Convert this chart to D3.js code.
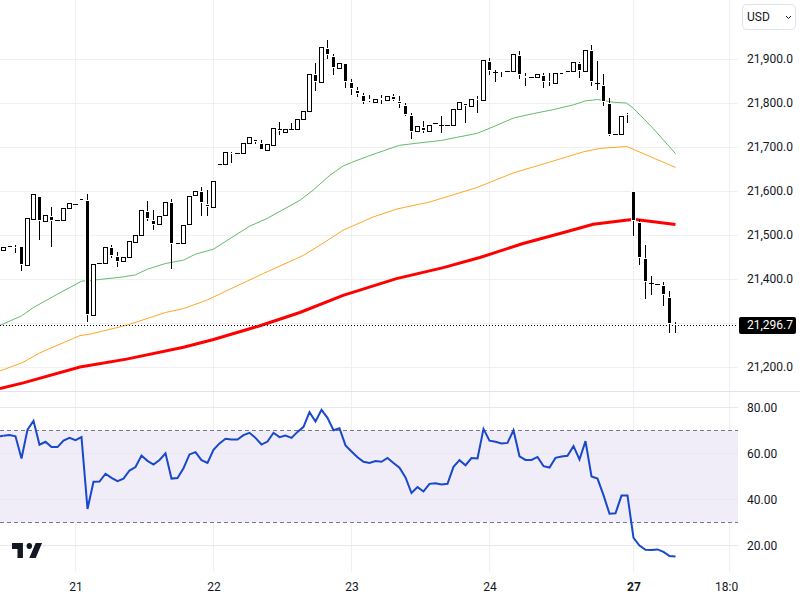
<!DOCTYPE html>
<html>
<head>
	<title></title>
	<meta charset="utf-8">
	<script src="https://d3js.org/d3.v7.min.js"></script>
	<style>
		body { margin: 0; background: #fff; }
		text { font-family: Roboto, sans-serif; font-size: 12px; fill: #131722; }
	</style>
</head>
<body>

	<script type="text/javascript">

		var opens = [21466,21475,21473,21474,21431,21536,21589,21532,21544,21534,
			21533,21561,21570,21585,21580,21318,21436,21436,21473,21453,
			21440,21449,21483,21500,21555,21535,21525,21545,21575,21482,
			21482,21525,21591,21601,21571,21564,21661,21661,21687,21686,
			21686,21709,21718,21709,21693,21704,21741,21734,21742,21741,
			21764,21782,21867,21848,21925,21907,21880,21891,21848,21830,
			21818,21808,21802,21811,21807,21816,21805,21795,21773,21736,
			21745,21736,21754,21751,21751,21751,21786,21800,21793,21809,
			21806,21896,21870,21874,21873,21873,21910,21861,21859,21859,
			21864,21851,21845,21870,21872,21873,21892,21873,21920,21846,
			21841,21800,21730,21730,21776,21599,21530,21448,21390,21388,
			21387,21360,21298]

		var closes = [21472,21472,21472,21433,21539,21593,21533,21545,21533,21534,
			21561,21573,21570,21580,21321,21434,21436,21473,21455,21440,
			21449,21486,21500,21557,21539,21526,21543,21575,21481,21479,
			21523,21588,21601,21574,21565,21622,21659,21689,21686,21686,
			21708,21722,21713,21695,21706,21743,21738,21742,21742,21764,
			21781,21866,21849,21927,21911,21881,21892,21851,21835,21822,
			21805,21807,21809,21810,21817,21809,21799,21776,21736,21747,
			21738,21751,21754,21751,21751,21786,21802,21795,21809,21808,
			21898,21876,21870,21873,21873,21911,21867,21860,21859,21866,
			21849,21850,21868,21867,21870,21893,21874,21920,21849,21846,
			21804,21730,21730,21771,21775,21533,21451,21395,21390,21388,
			21365,21299,21296.7]

		var highs = [21472,21475,21480,21474,21539,21593,21589,21545,21567,21534,
			21561,21573,21570,21585,21595,21434,21436,21473,21480,21464,
			21449,21486,21500,21557,21580,21560,21543,21575,21584,21482,
			21523,21588,21601,21612,21605,21622,21661,21689,21692,21686,
			21708,21722,21718,21718,21706,21743,21760,21742,21757,21764,
			21781,21866,21893,21927,21945,21914,21892,21891,21857,21839,
			21824,21820,21809,21820,21817,21823,21818,21802,21780,21747,
			21762,21751,21754,21773,21751,21786,21802,21800,21809,21819,
			21898,21904,21877,21878,21873,21911,21921,21870,21859,21866,
			21870,21870,21868,21870,21872,21893,21895,21920,21933,21898,
			21868,21814,21730,21771,21780,21599,21539,21480,21408,21388,
			21396,21374,21305]

		var lows = [21466,21472,21461,21421,21431,21536,21492,21532,21476,21534,
			21533,21561,21570,21580,21304,21318,21436,21436,21451,21429,
			21440,21449,21483,21500,21535,21514,21525,21545,21424,21479,
			21482,21525,21591,21546,21546,21564,21659,21661,21665,21686,
			21686,21709,21708,21695,21693,21704,21730,21734,21742,21741,
			21764,21782,21830,21848,21902,21865,21880,21836,21821,21815,
			21799,21805,21802,21799,21807,21806,21790,21773,21720,21736,
			21735,21736,21754,21733,21751,21751,21786,21756,21793,21779,
			21806,21865,21851,21861,21873,21873,21856,21842,21859,21859,
			21836,21840,21845,21867,21870,21873,21859,21873,21842,21832,
			21795,21727,21730,21730,21756,21499,21435,21356,21367,21388,
			21340,21279,21279]

		var greenBars = [-0.6,3,5,9,13,16,20,22,24,27,30,32,35,37.75,41,43.9,49.4,51.6,54.4,56.6,58,60.5,63.3,66,69.4,73,75.5,78.9,81.6,85,88.3,91.6,95,97,99,101.6,103.8,105,108.3,112]
		var greenValues = [21295.5,21317.4,21336.4,21366.7,21396.2,21400,21406,21410.6,21423.5,21436.4,21444,21457.6,21469,21493,21521,21538.5,21580,21603,21637,21658,21666,21679,21692.4,21705,21710.6,21716,21723,21732,21747,21767,21777,21786,21797,21806,21809,21803,21801,21789,21743,21686]

		var orangeBars = [-0.6,3.3,6,12.75,14.4,20.5,27,30,33.9,37.75,43.3,50,52.75,56.6,61.6,65.5,71,78.9,85,91,96.6,99.4,103.9,112]
		var orangeValues = [21192,21212,21233,21272.6,21275.7,21296,21325,21334,21353,21378,21413.5,21455,21478,21512,21542,21560,21576,21609,21642.4,21666.7,21690,21698,21702.3,21654.6]

		var redBars = [-0.6,3.3,12.75,20.5,30,35,42.75,49.4,56.6,65.5,73.3,79.4,86.6,92.75,98.3,104.4,105,112]
		var redValues = [21152,21165,21201,21219,21246,21263.6,21295,21325,21364,21402,21427,21450,21481.7,21504.4,21525.6,21536,21537,21525]

		var rsiValues = [67.7,68.0,67.5,57.8,70.4,74.2,63.8,65.1,62.8,62.8,
			65.6,66.8,65.8,67.1,35.9,47.7,47.8,51.2,49.4,48.0,
			49.1,52.6,54.1,59.1,56.8,55.2,57.2,60.1,49.1,49.3,
			53.6,59.6,60.6,57.1,55.9,61.6,64.4,66.4,66.1,66.1,
			68.0,69.0,66.8,63.9,65.2,69.0,67.1,67.8,66.8,69.4,
			71.6,78.0,73.9,79.0,75.5,70.1,71.0,63.5,60.9,58.4,
			56.4,55.9,56.7,56.4,58.1,55.9,53.8,49.6,42.8,45.4,
			43.5,46.8,47.1,46.5,46.8,54.2,57.1,54.9,58.0,57.8,
			70.7,65.6,65.1,64.4,64.6,70.1,58.8,57.2,57.2,58.5,
			54.5,53.9,58.1,58.7,59.0,63.2,57.4,65.4,50.0,49.1,
			41.9,33.8,34.0,41.7,41.7,23.3,20.0,18.1,18.0,18.3,
			17.2,15.4,15.2]

		var priceTicks = [21200,21300,21400,21500,21600,21700,21800,21900]
		var priceLabels = [21200,21400,21500,21600,21700,21800,21900]
		var rsiTicks = [20,40,60,80]
		var timeBars = [12,35,58,81,105,121]
		var timeLabels = ["21","22","23","24","27","18:00"]
		var lastPrice = 21296.7

		var paneRight = 738

		var svg = d3.select("body").append("svg")
			.attr("width", 800)
			.attr("height", 600)
			.style("display", "block")

		var x = d3.scaleLinear().domain([0, 112]).range([3.5, 675.5])
		var y = d3.scaleLinear().domain([21200, 21900]).range([367.5, 59.5])
		var yRsi = d3.scaleLinear().domain([20, 80]).range([545.5, 407.5])

		var defs = svg.append("defs")
		defs.append("clipPath").attr("id", "priceClip").append("rect")
			.attr("width", paneRight).attr("height", 391)
		defs.append("clipPath").attr("id", "rsiClip").append("rect")
			.attr("y", 392).attr("width", paneRight).attr("height", 180)
		defs.append("clipPath").attr("id", "timeClip").append("rect")
			.attr("y", 572).attr("width", paneRight).attr("height", 28)

		var gridColor = "#eff0f3"

		function snap(v){ return Math.round(v - 0.5) + 0.5 }

		// vertical grid, both panes
		svg.selectAll(".vgrid").data(timeBars).enter().append("line")
			.attr("x1", function(d){ return snap(x(d)) })
			.attr("x2", function(d){ return snap(x(d)) })
			.attr("y1", 0).attr("y2", 572)
			.attr("stroke", gridColor)

		// horizontal grid, price pane
		svg.selectAll(".hgrid").data(priceTicks).enter().append("line")
			.attr("x1", 0).attr("x2", paneRight)
			.attr("y1", function(d){ return y(d) }).attr("y2", function(d){ return y(d) })
			.attr("stroke", gridColor)

		// pane separator
		svg.append("line").attr("x1", 0).attr("x2", 800).attr("y1", 391.5).attr("y2", 391.5)
			.attr("stroke", "#e0e3eb")

		// rsi band
		svg.append("rect")
			.attr("x", 0).attr("width", paneRight)
			.attr("y", yRsi(70)).attr("height", yRsi(30) - yRsi(70))
			.attr("fill", "#f0edf8")

		svg.selectAll(".rgrid").data(rsiTicks).enter().append("line")
			.attr("x1", 0).attr("x2", paneRight)
			.attr("y1", function(d){ return yRsi(d) }).attr("y2", function(d){ return yRsi(d) })
			.attr("stroke", "#e9e8f0")

		svg.selectAll(".rband").data([70, 30]).enter().append("line")
			.attr("x1", 0).attr("x2", paneRight)
			.attr("y1", function(d){ return yRsi(d) }).attr("y2", function(d){ return yRsi(d) })
			.attr("stroke", "#787b86")
			.attr("stroke-dasharray", "4 3")

		// moving averages go under the candles
		var price = svg.append("g").attr("clip-path", "url(#priceClip)")

		function drawAverage(bars, values, color, width){
			var line = d3.line()
				.x(function(d){ return x(d) })
				.y(function(d, i){ return y(values[i]) })
			price.append("path")
				.attr("d", line(bars))
				.attr("fill", "none")
				.attr("stroke", color)
				.attr("stroke-width", width)
		}
		drawAverage(greenBars, greenValues, "#66bb6a", 1)
		drawAverage(orangeBars, orangeValues, "#ffa726", 1)
		drawAverage(redBars, redValues, "#ff0000", 3)

		function bodyTop(d, i){ return snap(y(Math.max(d, closes[i]))) }
		function bodyBottom(d, i){ return snap(y(Math.min(d, closes[i]))) }

		var candle = price.selectAll(".candle").data(opens).enter().append("g")
			.attr("shape-rendering", "crispEdges")

		candle.append("line")
			.attr("x1", function(d, i){ return x(i) })
			.attr("x2", function(d, i){ return x(i) })
			.attr("y1", function(d, i){ return snap(y(highs[i])) })
			.attr("y2", function(d, i){ return snap(y(lows[i])) })
			.attr("stroke", "#000")

		// border: black on rising bars, white on falling ones
		candle.append("rect")
			.attr("x", function(d, i){ return x(i) - 2.5 })
			.attr("width", 5)
			.attr("y", function(d, i){ return bodyTop(d, i) - 0.5 })
			.attr("height", function(d, i){ return bodyBottom(d, i) - bodyTop(d, i) + 1 })
			.attr("fill", function(d, i){ return closes[i] >= d ? "#000" : "#fff" })

		candle.append("rect")
			.attr("x", function(d, i){ return x(i) - 1.5 })
			.attr("width", 3)
			.attr("y", function(d, i){ return bodyTop(d, i) + 0.5 })
			.attr("height", function(d, i){ return Math.max(0, bodyBottom(d, i) - bodyTop(d, i) - 1) })
			.attr("fill", function(d, i){ return closes[i] >= d ? "#fff" : "#000" })

		// a falling bar of 2 points or more always keeps a black sliver
		candle.each(function(d, i){
			if (closes[i] < d && d - closes[i] >= 2 && bodyBottom(d, i) - bodyTop(d, i) < 2){
				d3.select(this).append("rect")
					.attr("x", x(i) - 2)
					.attr("width", 4)
					.attr("y", bodyTop(d, i) - 0.5)
					.attr("height", 1)
					.attr("fill", "#000")
			}
		})

		// last price line
		svg.append("line")
			.attr("x1", 0).attr("x2", paneRight - 2)
			.attr("y1", snap(y(lastPrice) + 0.5)).attr("y2", snap(y(lastPrice) + 0.5))
			.attr("stroke", "#000")
			.attr("stroke-dasharray", "1 2")

		// rsi line, starts at the left edge
		var rsiLine = d3.line()
			.x(function(d, i){ return x(i) })
			.y(function(d){ return yRsi(d) })
		svg.append("g").attr("clip-path", "url(#rsiClip)").append("path")
			.attr("d", rsiLine(rsiValues))
			.attr("fill", "none")
			.attr("stroke", "#1848cc")
			.attr("stroke-width", 2)
		svg.append("line").attr("clip-path", "url(#rsiClip)")
			.attr("x1", 0).attr("x2", x(0))
			.attr("y1", yRsi(67.5)).attr("y2", yRsi(rsiValues[0]))
			.attr("stroke", "#1848cc").attr("stroke-width", 2)

		// axes
		var priceAxis = d3.axisRight(y)
			.tickValues(priceLabels)
			.tickFormat(d3.format(",.1f"))
			.tickSize(0)
			.tickPadding(0)
		svg.append("g").attr("transform", "translate(747,-1)").call(priceAxis)
			.call(function(g){ g.select(".domain").remove() })
			.selectAll("text").style("font-size", "12px").attr("font-family", null)

		var rsiAxis = d3.axisRight(yRsi)
			.tickValues(rsiTicks)
			.tickFormat(d3.format(".2f"))
			.tickSize(0)
			.tickPadding(0)
		svg.append("g").attr("transform", "translate(747,0)").call(rsiAxis)
			.call(function(g){ g.select(".domain").remove() })
			.selectAll("text").style("font-size", "12px").attr("font-family", null)

		var timeAxis = d3.axisBottom(x)
			.tickValues(timeBars)
			.tickFormat(function(d, i){ return timeLabels[i] })
			.tickSize(0)
			.tickPadding(10)
		var timeGroup = svg.append("g").attr("clip-path", "url(#timeClip)")
			.append("g").attr("transform", "translate(0,572)").call(timeAxis)
		timeGroup.select(".domain").remove()
		timeGroup.selectAll("text")
			.style("font-size", "12px")
			.style("font-weight", function(d){ return d === 105 ? "700" : "400" })

		// last price tag
		svg.append("rect")
			.attr("x", 739).attr("y", Math.round(y(lastPrice) - 8))
			.attr("width", 57).attr("height", 17).attr("rx", 2)
			.attr("fill", "#000")
		svg.append("text")
			.attr("x", 747).attr("y", y(lastPrice) + 4.5)
			.style("fill", "#fff")
			.text(d3.format(",.1f")(lastPrice))

		// USD button
		svg.append("rect")
			.attr("x", 742.5).attr("y", 4.5).attr("width", 53).attr("height", 25).attr("rx", 4)
			.attr("fill", "#fff").attr("stroke", "#e0e3eb")
		svg.append("text").attr("x", 747).attr("y", 21).text("USD")
		svg.append("path")
			.attr("d", "M786 16l2.5 2.5 2.5-2.5")
			.attr("fill", "none").attr("stroke", "#131722")

		// logo
		svg.append("path")
			.attr("transform", "translate(10.2,537) scale(.91,1)")
			.attr("d", "M14 6H2v6h6v9h6V6Zm14 15h-7l7-15h7l-7 15Zm-7-9a3 3 0 1 0 0-6 3 3 0 0 0 0 6Z")
			.attr("fill", "#131722")

	</script>

</body>
</html>
